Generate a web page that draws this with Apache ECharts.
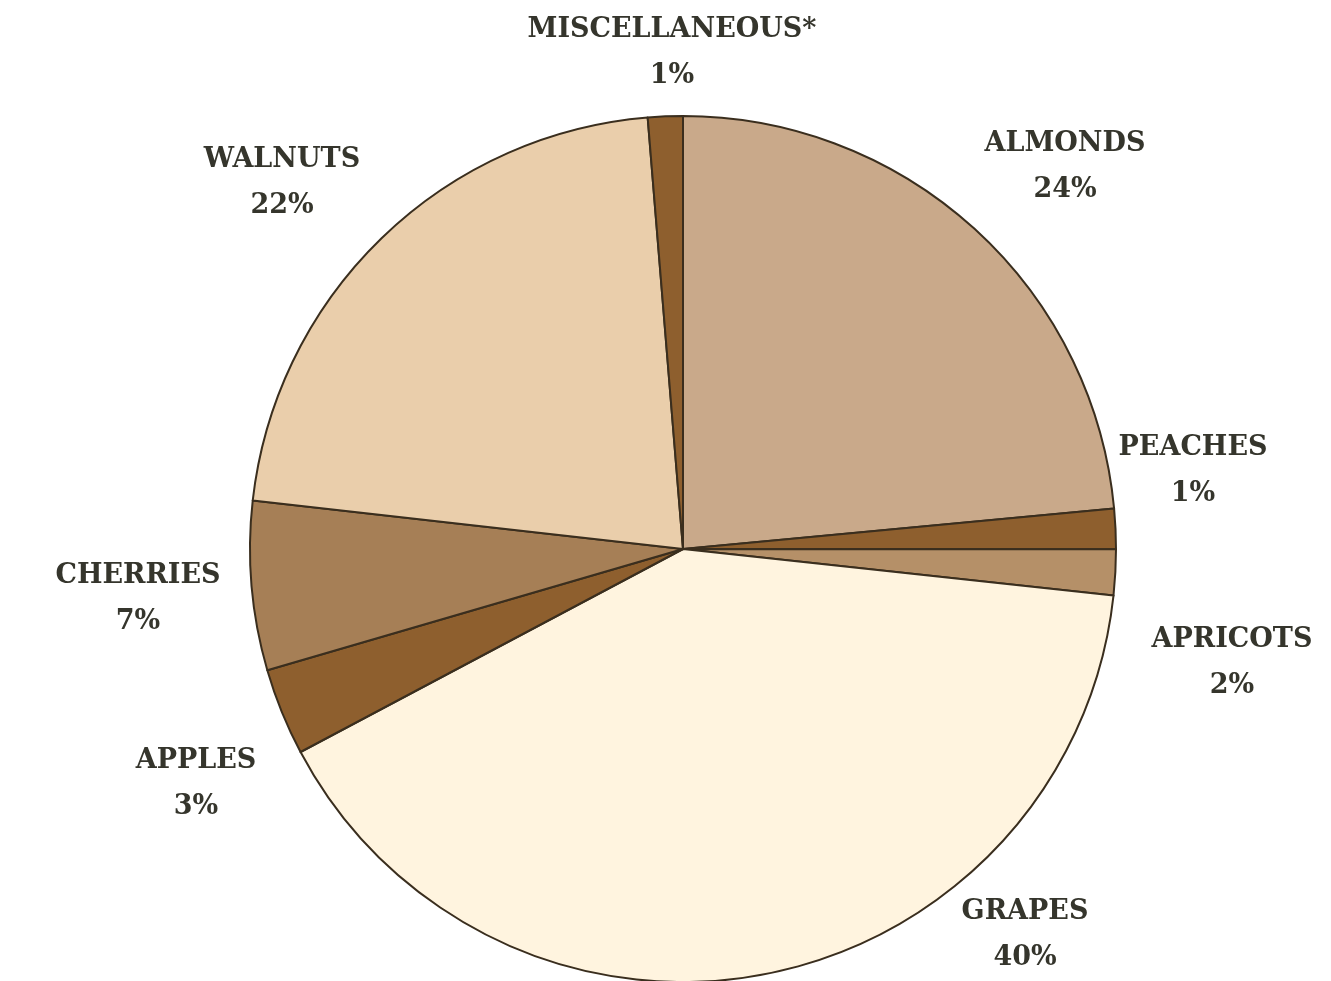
<!DOCTYPE html>
<html>
<head>
<meta charset="utf-8">
<script src="https://cdn.jsdelivr.net/npm/echarts@6/dist/echarts.min.js"></script>
<style>
    html, body { margin: 0; padding: 0; background: #fff; }
    #chart { width: 1331px; height: 981px; }
</style>
</head>
<body>
<div id="chart"></div>
<script>
// slices, clockwise from 12 o'clock
const names = ["ALMONDS", "PEACHES", "APRICOTS", "GRAPES", "APPLES", "CHERRIES", "WALNUTS", "MISCELLANEOUS*"]
const shares = [23.5, 1.5, 1.7, 40.5, 3.25, 6.3, 21.9, 1.3]
const labelPct = ["24%", "1%", "2%", "40%", "3%", "7%", "22%", "1%"]

const colors = ["#c9a98a", "#8e5f2e", "#b59068", "#fff4df", "#8e5f2e", "#a67f56", "#eaceab", "#8e5f2e"]
// label block centres (px)
const labelPos = [
    [1065, 167],
    [1193, 471],
    [1232, 663],
    [1025, 935],
    [196, 784],
    [138, 599],
    [282, 183],
    [672, 53],
]

const myChart = echarts.init(document.getElementById("chart"))
myChart.setOption({
    backgroundColor: "#fff",
    animation: false,
    series: [
        {
            type: "pie",
            center: [683, 549],
            radius: 433,
            startAngle: 90,
            clockwise: true,
            itemStyle: {
                borderColor: "#3a2e1e",
                borderWidth: 2,
            },
            label: {
                show: true,
                position: "outside",
                formatter: p => p.name + "\n" + labelPct[p.dataIndex],
                fontFamily: "DejaVu Serif",
                fontWeight: "bold",
                fontSize: 27,
                lineHeight: 46,
                color: "#35352c",
                align: "center",
            },
            labelLine: { show: false },
            labelLayout: params => ({
                x: labelPos[params.dataIndex][0],
                y: labelPos[params.dataIndex][1],
                align: "center",
                verticalAlign: "middle",
            }),
            emphasis: { disabled: true },
            data: names.map((n, i) => ({
                name: n,
                value: shares[i],
                itemStyle: { color: colors[i] },
            })),
        },
    ],
})
window.addEventListener("resize", function () {
    myChart.resize()
})
</script>
</body>
</html>
